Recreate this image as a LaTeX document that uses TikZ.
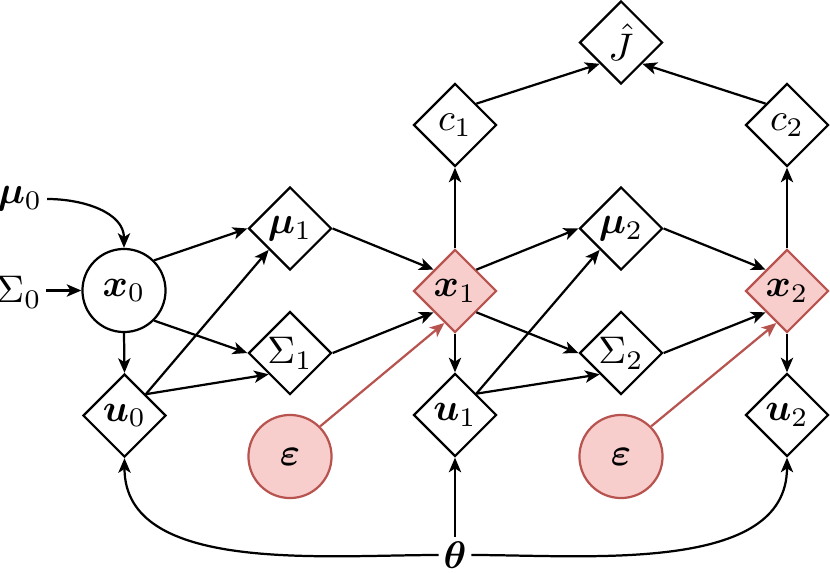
\documentclass[tikz,border=0pt]{standalone}
\usepackage{amsmath,bm}
\usetikzlibrary{shapes.geometric,arrows.meta,calc}
\definecolor{redfill}{HTML}{F8CECC}
\definecolor{redline}{HTML}{B85450}
\begin{document}
\begin{tikzpicture}[x=0.26pt,y=-0.26pt,
  every path/.style={line width=0.58pt},
  >={Stealth[length=3.8pt,width=3.2pt,inset=1pt]},
  dnode/.style={diamond,draw,line width=0.58pt,minimum width=21.6pt,minimum height=21.6pt,inner sep=0pt,aspect=1},
  rnode/.style={dnode,draw=redline,fill=redfill},
  cnode/.style={circle,draw,line width=0.58pt,minimum size=21.6pt,inner sep=0pt},
  enode/.style={cnode,draw=redline,fill=redfill},
  plain/.style={inner sep=1pt},
  edge/.style={->,line width=0.58pt},
  redge/.style={->,line width=0.58pt,draw=redline}
]
\useasboundingbox (0,0) rectangle (830,573);
\node[plain] (mu0) at (20,199) {$\bm{\mu}_0$};
\node[plain] (S0) at (19,292) {$\Sigma_0$};
\node[cnode] (x0) at (124,290.5) {$\bm{x}_0$};
\node[dnode] (u0) at (124.5,415.5) {$\bm{u}_0$};
\node[dnode] (mu1) at (290,228.5) {$\bm{\mu}_1$};
\node[dnode] (S1) at (290,353) {$\Sigma_1$};
\node[rnode] (x1) at (455,291) {$\bm{x}_1$};
\node[dnode] (u1) at (455,415) {$\bm{u}_1$};
\node[enode] (e1) at (290,456.5) {$\bm{\varepsilon}$};
\node[dnode] (c1) at (455,125) {$c_1$};
\node[dnode] (J) at (621,42.5) {$\hat{J}$};
\node[dnode] (mu2) at (621,228.5) {$\bm{\mu}_2$};
\node[dnode] (S2) at (621,353) {$\Sigma_2$};
\node[rnode] (x2) at (787,291) {$\bm{x}_2$};
\node[dnode] (u2) at (787,415) {$\bm{u}_2$};
\node[enode] (e2) at (621,456.5) {$\bm{\varepsilon}$};
\node[dnode] (c2) at (787,125) {$c_2$};
\node[plain] (th) at (455,555) {$\bm{\theta}$};

\draw[edge] (mu0.east) to[out=0,in=90] (x0.north);
\draw[edge] (S0.east |- x0.west) -- (x0.west);
\draw[edge] (x0.south) -- (u0.north);
\draw[edge] (x0.north east) -- (mu1.west);
\draw[edge] (x0.south east) -- (S1.west);
\draw[edge] (u0.north east) -- (mu1.south west);
\draw[edge] (u0.north east) -- (S1.south west);
\draw[edge] (mu1.east) -- (x1.north west);
\draw[edge] (S1.east) -- (x1.south west);
\draw[redge] (e1.north east) -- ($(x1.south)!0.5!(x1.south west)$);
\draw[edge] (x1.north) -- (c1.south);
\draw[edge] (x1.south) -- (u1.north);
\draw[edge] (x1.north east) -- (mu2.west);
\draw[edge] (x1.south east) -- (S2.west);
\draw[edge] (u1.north east) -- (mu2.south west);
\draw[edge] (u1.north east) -- (S2.south west);
\draw[edge] (mu2.east) -- (x2.north west);
\draw[edge] (S2.east) -- (x2.south west);
\draw[redge] (e2.north east) -- ($(x2.south)!0.5!(x2.south west)$);
\draw[edge] (x2.north) -- (c2.south);
\draw[edge] (x2.south) -- (u2.north);
\draw[edge] (c1.north east) -- (J.south west);
\draw[edge] (c2.north west) -- (J.south east);
\draw[edge] (th.north) -- (u1.south);
\draw[edge] (th.west) to[out=180,in=-90,looseness=0.9] (u0.south);
\draw[edge] (th.east) to[out=0,in=-90,looseness=0.9] (u2.south);
\end{tikzpicture}
\end{document}
